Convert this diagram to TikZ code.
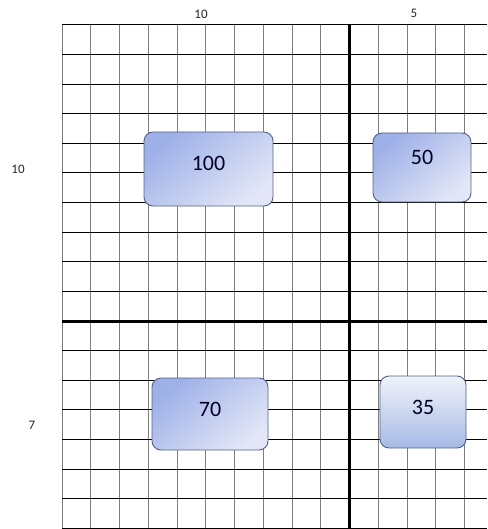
\documentclass[tikz,border=0pt]{standalone}
\usepackage{fontspec}
\setmainfont{Carlito}
\usepackage{tikz}
\usetikzlibrary{positioning,calc}
\definecolor{gridGray}{RGB}{125,125,125}
\definecolor{boxEdge}{RGB}{85,98,135}
\definecolor{boxDark}{RGB}{158,176,232}
\definecolor{boxLight}{RGB}{226,230,246}
\definecolor{boxPale}{RGB}{240,243,251}
\definecolor{boxMid}{RGB}{166,186,229}

\tikzset{
  valbox/.style={draw=boxEdge, line width=0.9pt, rounded corners=9pt, inner sep=0pt,
    top color=boxDark, bottom color=boxLight, shading angle=40},
  valboxv/.style={draw=boxEdge, line width=0.9pt, rounded corners=9pt, inner sep=0pt,
    top color=boxPale, bottom color=boxMid},
  numtext/.style={font=\fontsize{22}{24}\selectfont, text=black!85!blue},
  sizelabel/.style={font=\fontsize{13}{15}\selectfont, text=black!85}
}

\begin{document}
\begin{tikzpicture}[x=1pt, y=-1pt]
    \useasboundingbox (0,0) rectangle (487,529);

    % Vertical grid lines (gray)
    \foreach \i in {0,...,14} {
      \draw[gridGray, line width=1pt] ({62+\i*28.75},25) -- ({62+\i*28.75},528.5);
    }
    % Horizontal grid lines (black)
    \foreach \j in {0,...,17} {
      \draw[black, line width=1pt] (62,{25+\j*29.6}) -- (487,{25+\j*29.6});
    }

    % Thick dividing lines
    \draw[line width=3pt] (349.5,25) -- (349.5,528.5);
    \draw[line width=3pt] (62,321) -- (487,321);

    % Size labels
    \node[sizelabel] (topA) at (201,14) {10};
    \node[sizelabel] (topB) at (414,13) {5};
    \node[sizelabel] (sideA) at (18,169) {10};
    \node[sizelabel] (sideB) at (32,425) {7};

    % Value boxes
    \node[valbox, minimum width=129pt, minimum height=74pt] (b100) at (208.5,169) {};
    \node[valbox, minimum width=98pt, minimum height=69pt] (b50) at (422,167.5) {};
    \node[valbox, minimum width=116pt, minimum height=72pt] (b70) at (210,414) {};
    \node[valboxv, minimum width=86pt, minimum height=72pt] (b35) at (423,412) {};

    % Numbers in boxes
    \node[numtext] (t100) at ([yshift=6pt]b100.center) {100};
    \node[numtext] (t50) at ([yshift=10pt]b50.center) {50};
    \node[numtext] (t70) at ([yshift=5pt]b70.center) {70};
    \node[numtext] (t35) at ([yshift=5pt]b35.center) {35};
\end{tikzpicture}
\end{document}
